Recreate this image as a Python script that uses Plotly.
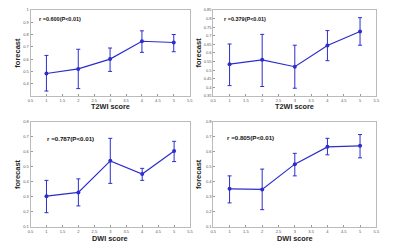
import plotly.graph_objects as go

scores = [1, 2, 3, 4, 5]

# Panel A: T2WI (left)
t2_a_mean = [0.483, 0.52, 0.60, 0.745, 0.735]
t2_a_hi = [0.63, 0.68, 0.69, 0.83, 0.80]
t2_a_lo = [0.34, 0.36, 0.50, 0.655, 0.66]

# Panel B: T2WI (right)
t2_b_mean = [0.535, 0.56, 0.52, 0.643, 0.725]
t2_b_hi = [0.652, 0.708, 0.645, 0.73, 0.805]
t2_b_lo = [0.41, 0.405, 0.395, 0.555, 0.645]

# Panel C: DWI (left)
dwi_a_mean = [0.305, 0.33, 0.54, 0.452, 0.605]
dwi_a_hi = [0.41, 0.42, 0.69, 0.49, 0.67]
dwi_a_lo = [0.195, 0.24, 0.39, 0.41, 0.535]

# Panel D: DWI (right)
dwi_b_mean = [0.354, 0.35, 0.518, 0.633, 0.64]
dwi_b_hi = [0.44, 0.485, 0.59, 0.69, 0.715]
dwi_b_lo = [0.26, 0.215, 0.44, 0.58, 0.56]

x_ticks = [0.5, 1, 1.5, 2, 2.5, 3, 3.5, 4, 4.5, 5, 5.5]
x_ticklabels = ["0.5", "1", "1.5", "2", "2.5", "3", "3.5", "4", "4.5", "5", "5.5"]
y_ticks_a = [0.3, 0.4, 0.5, 0.6, 0.7, 0.8, 0.9, 1.0]
y_ticklabels_a = ["", "0.4", "0.5", "0.6", "0.7", "0.8", "0.9", "1"]
y_ticks_b = [0.35, 0.4, 0.45, 0.5, 0.55, 0.6, 0.65, 0.7, 0.75, 0.8, 0.85]
y_ticklabels_b = ["0.35", "0.4", "0.45", "0.5", "0.55", "0.6", "0.65", "0.7", "0.75", "0.8", "0.85"]
y_ticks_c = [0.1, 0.2, 0.3, 0.4, 0.5, 0.6, 0.7, 0.8]
y_ticklabels_c = ["0.1", "0.2", "0.3", "0.4", "0.5", "0.6", "0.7", "0.8"]

labels = ["r =0.600(P<0.01)", "r =0.379(P<0.01)", "r =0.787(P<0.01)", "r =0.805(P<0.01)"]
xtitles = ["T2WI score", "T2WI score", "DWI score", "DWI score"]
ytitle = "forecast"

panels = [
    (t2_a_mean, t2_a_hi, t2_a_lo, [0.3, 1.0], y_ticks_a, y_ticklabels_a),
    (t2_b_mean, t2_b_hi, t2_b_lo, [0.35, 0.85], y_ticks_b, y_ticklabels_b),
    (dwi_a_mean, dwi_a_hi, dwi_a_lo, [0.1, 0.8], y_ticks_c, y_ticklabels_c),
    (dwi_b_mean, dwi_b_hi, dwi_b_lo, [0.1, 0.8], y_ticks_c, y_ticklabels_c),
]

W, H = 400, 244
xdomains = [[0.07, 0.475], [0.535, 0.95], [0.07, 0.476], [0.535, 0.95]]
ydomains = [[0.611, 0.971], [0.611, 0.971], [0.063, 0.503], [0.063, 0.503]]
ann_pos = [(0.043, 0.955, 5.5), (0.054, 0.955, 5.5), (0.092, 0.89, 6.2), (0.072, 0.9, 6.2)]
xtitle_top = [100.5, 100.5, 234.5, 234.5]
ytitle_x = [15, 199, 15, 199]

blue = "rgb(45,45,205)"
fig = go.Figure()
layout = dict(
    width=W, height=H, margin=dict(l=0, r=0, t=0, b=0),
    paper_bgcolor="white", plot_bgcolor="white", showlegend=False,
    font=dict(family="Liberation Sans, Arial, sans-serif", color="#222"),
)
annotations = []
for i, (m, hi, lo, yr, yt, ytl) in enumerate(panels):
    n = i + 1
    xa = "x" if n == 1 else f"x{n}"
    ya = "y" if n == 1 else f"y{n}"
    fig.add_trace(go.Scatter(
        x=scores, y=m, xaxis=xa, yaxis=ya, mode="lines+markers",
        line=dict(color=blue, width=1.2),
        marker=dict(color=blue, size=4, symbol="circle"),
        error_y=dict(type="data", symmetric=False,
                     array=[h - v for h, v in zip(hi, m)],
                     arrayminus=[v - l for v, l in zip(m, lo)],
                     color=blue, thickness=1, width=2),
    ))
    axstyle = dict(showline=True, linecolor="#bbb", linewidth=1, mirror=True,
                   showgrid=False, zeroline=False, ticks="inside", ticklen=2,
                   tickcolor="#999", tickfont=dict(size=4, color="#555"))
    layout["xaxis" if n == 1 else f"xaxis{n}"] = dict(
        domain=xdomains[i], range=[0.5, 5.5], tickvals=x_ticks, ticktext=x_ticklabels,
        anchor=ya, **axstyle)
    layout["yaxis" if n == 1 else f"yaxis{n}"] = dict(
        domain=ydomains[i], range=yr, tickvals=yt, ticktext=ytl, anchor=xa, **axstyle)
    ax, ay, fs = ann_pos[i]
    annotations.append(dict(
        text=f"<b>{labels[i]}</b>", xref=f"{xa} domain", yref=f"{ya} domain",
        x=ax, y=ay, xanchor="left", yanchor="top", showarrow=False,
        font=dict(size=fs, color="#111")))
    annotations.append(dict(
        text=f"<b>{xtitles[i]}</b>", xref="paper", yref="paper",
        x=sum(xdomains[i]) / 2, y=1 - xtitle_top[i] / H, xanchor="center", yanchor="top",
        showarrow=False, borderpad=0, font=dict(size=7.3, color="#222")))
    annotations.append(dict(
        text=f"<b>{ytitle}</b>", xref="paper", yref="paper", textangle=-90,
        x=ytitle_x[i] / W, y=sum(ydomains[i]) / 2, xanchor="center", yanchor="middle",
        showarrow=False, font=dict(size=7.5, color="#222")))
layout["annotations"] = annotations
fig.update_layout(**layout)
fig.write_html("out.html", config={"displayModeBar": False},
               post_script="document.body.style.margin='0';document.body.style.padding='0';")
